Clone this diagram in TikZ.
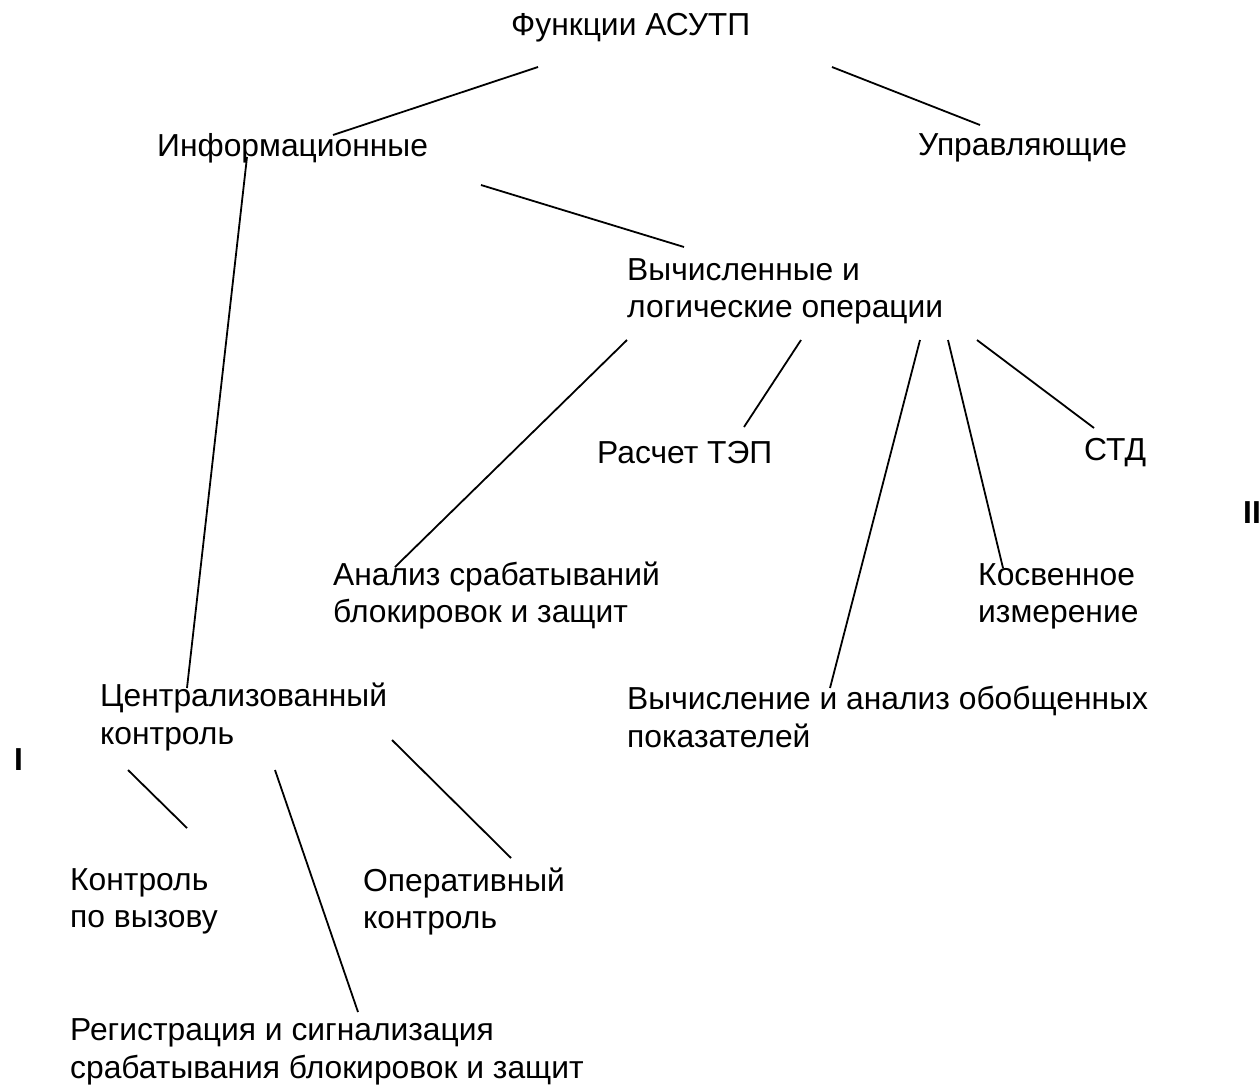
\documentclass[tikz,border=0pt]{standalone}
\usepackage{fontspec}
\setmainfont{Liberation Sans}
\begin{document}
\begin{tikzpicture}[x=1pt,y=-1pt,
  lbl/.style={anchor=west,align=left,inner sep=0pt,yshift=-3pt,font=\fontsize{31.8}{37.5}\selectfont},
  roman/.style={anchor=west,inner sep=0pt,font=\fontsize{31.8}{37.5}\selectfont\bfseries},
  conn/.style={line width=1.8pt}]
\useasboundingbox (0,0) rectangle (1260,1088);
\node[lbl] (root) at (511,25) {Функции АСУТП};
\node[lbl] (info) at (157,145) {Информационные};
\node[lbl] (ctrl) at (918,145) {Управляющие};
\node[lbl] (calc) at (627,288.5) {Вычисленные и\\логические операции};
\node[lbl] (tep) at (597,450) {Расчет ТЭП};
\node[lbl] (std) at (1084,450) {СТД};
\node[lbl] (anal) at (333,592.5) {Анализ срабатываний\\блокировок и защит};
\node[lbl] (kosv) at (978,593.5) {Косвенное\\измерение};
\node[lbl] (central) at (100,714) {Централизованный\\контроль};
\node[lbl] (obob) at (627,714) {Вычисление и анализ обобщенных\\показателей};
\node[lbl] (vyzov) at (70,898.5) {Контроль\\по вызову};
\node[lbl] (oper) at (363,898.5) {Оперативный\\контроль};
\node[lbl] (reg) at (70,1049) {Регистрация и сигнализация\\срабатывания блокировок и защит};
\node[roman] (one) at (14,760) {I};
\node[roman] (two) at (1243,513) {II};
% connector end points
\coordinate (r1) at (538,67);   \coordinate (i1) at (333,135);
\coordinate (r2) at (832,67);   \coordinate (c1) at (980,125);
\coordinate (i2) at (247,157);  \coordinate (ce1) at (187,688);
\coordinate (i3) at (481,185);  \coordinate (ca1) at (684,247);
\coordinate (ca2) at (627,340); \coordinate (an1) at (395,567);
\coordinate (ca3) at (801,340); \coordinate (te1) at (744,427);
\coordinate (ca4) at (920,340); \coordinate (ob1) at (830,688);
\coordinate (ca5) at (948,340); \coordinate (ko1) at (1003,568);
\coordinate (ca6) at (977,340); \coordinate (st1) at (1094,428);
\coordinate (ce2) at (128,770); \coordinate (vy1) at (187,828);
\coordinate (ce3) at (275,770); \coordinate (re1) at (358,1012);
\coordinate (ce4) at (392,740); \coordinate (op1) at (511,858);
\draw[conn] (r1) -- (i1);
\draw[conn] (r2) -- (c1);
\draw[conn] (i2) -- (ce1);
\draw[conn] (i3) -- (ca1);
\draw[conn] (ca2) -- (an1);
\draw[conn] (ca3) -- (te1);
\draw[conn] (ca4) -- (ob1);
\draw[conn] (ca5) -- (ko1);
\draw[conn] (ca6) -- (st1);
\draw[conn] (ce2) -- (vy1);
\draw[conn] (ce3) -- (re1);
\draw[conn] (ce4) -- (op1);
\end{tikzpicture}
\end{document}
